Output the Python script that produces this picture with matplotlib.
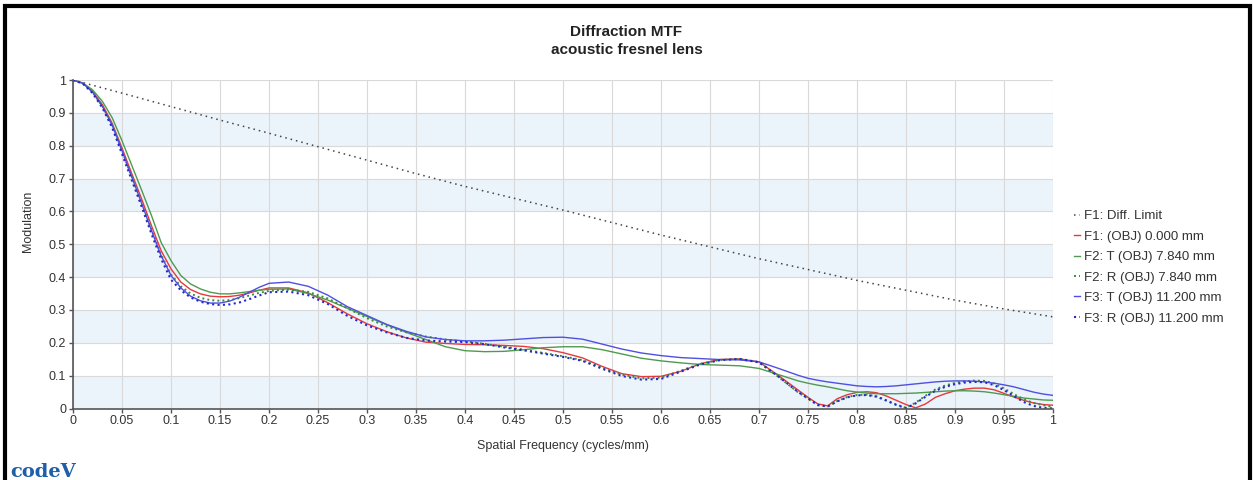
import numpy as np
import matplotlib
matplotlib.use("Agg")
import matplotlib.pyplot as plt
from matplotlib.patches import Rectangle
from matplotlib.ticker import MultipleLocator, FuncFormatter

plt.rcParams['font.family'] = ['Liberation Sans', 'DejaVu Sans']

# spatial frequency samples (cycles/mm)
freq = np.round(np.concatenate([np.arange(0, 0.205, 0.01),
                                np.arange(0.22, 0.745, 0.02),
                                np.arange(0.75, 1.005, 0.01)]), 3)

diff_freq = [0, 0.05, 0.1, 0.15, 0.2, 0.25, 0.3, 0.35, 0.4, 0.45, 0.5,
             0.55, 0.6, 0.65, 0.7, 0.75, 0.8, 0.85, 0.9, 0.95, 1.0]
diff_limit = [1.0, 0.96, 0.919, 0.878, 0.838, 0.797, 0.756, 0.715, 0.676, 0.64, 0.604,
              0.566, 0.528, 0.492, 0.456, 0.423, 0.39, 0.36, 0.33, 0.303, 0.279]

f1 = [1.0, 0.99, 0.965, 0.925, 0.868, 0.793, 0.715, 0.638, 0.557, 0.48, 0.425,
      0.385, 0.362, 0.349, 0.342, 0.34, 0.341, 0.345, 0.352, 0.36, 0.367,
      0.367, 0.352, 0.322, 0.288, 0.258, 0.234, 0.215, 0.202, 0.198, 0.195,
      0.194, 0.192, 0.189, 0.182, 0.17, 0.154, 0.128, 0.106, 0.097, 0.098,
      0.113, 0.136, 0.149, 0.151, 0.142, 0.10, 0.056,
      0.034, 0.014, 0.008, 0.03, 0.042, 0.049, 0.051, 0.048, 0.038, 0.025,
      0.012, 0.002, 0.014, 0.034, 0.045, 0.054, 0.059, 0.062, 0.062, 0.057,
      0.046, 0.035, 0.025, 0.017, 0.012, 0.01]

f2_t = [1.0, 0.991, 0.97, 0.935, 0.885, 0.815, 0.74, 0.665, 0.588, 0.505, 0.45,
        0.405, 0.379, 0.364, 0.354, 0.349, 0.349, 0.352, 0.356, 0.36, 0.363,
        0.364, 0.35, 0.33, 0.305, 0.28, 0.255, 0.232, 0.21, 0.188, 0.176,
        0.173, 0.174, 0.179, 0.185, 0.188, 0.188, 0.179, 0.166, 0.153, 0.145,
        0.139, 0.134, 0.132, 0.13, 0.122, 0.103, 0.084,
        0.077, 0.071, 0.066, 0.06, 0.054, 0.05, 0.047, 0.045, 0.045, 0.045,
        0.046, 0.047, 0.049, 0.051, 0.053, 0.054, 0.054, 0.053, 0.051, 0.047,
        0.042, 0.037, 0.032, 0.029, 0.026, 0.025]

f2_r = [1.0, 0.99, 0.963, 0.92, 0.862, 0.785, 0.705, 0.627, 0.545, 0.467, 0.408,
        0.372, 0.35, 0.337, 0.33, 0.328, 0.33, 0.336, 0.344, 0.352, 0.358,
        0.362, 0.355, 0.335, 0.305, 0.275, 0.25, 0.232, 0.219, 0.21, 0.204,
        0.197, 0.188, 0.179, 0.169, 0.159, 0.147, 0.124, 0.103, 0.092, 0.094,
        0.115, 0.136, 0.148, 0.151, 0.14, 0.096, 0.049,
        0.03, 0.01, 0.006, 0.023, 0.035, 0.041, 0.042, 0.037, 0.025, 0.012,
        0.002, 0.018, 0.039, 0.058, 0.07, 0.078, 0.083, 0.085, 0.084, 0.076,
        0.061, 0.044, 0.028, 0.017, 0.01, 0.005]

f3_t = [1.0, 0.99, 0.963, 0.92, 0.862, 0.785, 0.705, 0.625, 0.543, 0.465, 0.405,
        0.367, 0.342, 0.328, 0.321, 0.321, 0.327, 0.339, 0.354, 0.369, 0.381,
        0.385, 0.372, 0.345, 0.31, 0.283, 0.256, 0.235, 0.218, 0.21, 0.206,
        0.206, 0.208, 0.212, 0.216, 0.217, 0.211, 0.196, 0.181, 0.169, 0.161,
        0.155, 0.152, 0.149, 0.148, 0.142, 0.122, 0.101,
        0.092, 0.086, 0.081, 0.077, 0.073, 0.069, 0.067, 0.066, 0.067, 0.069,
        0.072, 0.075, 0.078, 0.081, 0.083, 0.084, 0.084, 0.083, 0.081, 0.077,
        0.072, 0.066, 0.058, 0.05, 0.044, 0.04]

f3_r = [1.0, 0.989, 0.96, 0.915, 0.855, 0.775, 0.695, 0.615, 0.532, 0.455, 0.392,
        0.36, 0.338, 0.325, 0.318, 0.315, 0.317, 0.323, 0.333, 0.344, 0.354,
        0.356, 0.345, 0.318, 0.282, 0.253, 0.232, 0.215, 0.207, 0.204, 0.202,
        0.196, 0.186, 0.177, 0.167, 0.157, 0.145, 0.121, 0.099, 0.088, 0.09,
        0.112, 0.134, 0.147, 0.151, 0.141, 0.097, 0.05,
        0.031, 0.011, 0.006, 0.022, 0.034, 0.04, 0.041, 0.036, 0.024, 0.011,
        0.001, 0.016, 0.036, 0.054, 0.066, 0.074, 0.079, 0.081, 0.08, 0.071,
        0.056, 0.038, 0.02, 0.008, 0.002, 0.0]

labels = ['F1: Diff. Limit', 'F1: (OBJ) 0.000 mm', 'F2: T (OBJ) 7.840 mm',
          'F2: R (OBJ) 7.840 mm', 'F3: T (OBJ) 11.200 mm', 'F3: R (OBJ) 11.200 mm']

fig = plt.figure(figsize=(12.53, 4.8), dpi=100)
ax = fig.add_axes([73 / 1253, 71.5 / 480, 980 / 1253, 328.5 / 480])

# alternating light blue bands
for lo in [0, 0.2, 0.4, 0.6, 0.8]:
    ax.axhspan(lo, lo + 0.1, color='#ebf3fb', lw=0, zorder=0)

ax.set_axisbelow(True)
ax.grid(color='#d9d9d9', lw=0.8)

ax.plot(diff_freq, diff_limit, color='#444444', lw=1.1, ls=(0, (1, 2.6)), label=labels[0])
ax.plot(freq, f1, color='#e8383d', lw=1.0, label=labels[1])
ax.plot(freq, f2_t, color='#4f9a4f', lw=1.0, label=labels[2])
ax.plot(freq, f2_r, color='#3c8a3c', lw=1.4, ls=(0, (1, 1.6)), label=labels[3])
ax.plot(freq, f3_t, color='#5050e0', lw=1.0, label=labels[4])
ax.plot(freq, f3_r, color='#2828c8', lw=1.5, ls=(0, (1, 1.6)), label=labels[5])

ax.set_xlim(0, 1)
ax.set_ylim(0, 1)
ax.xaxis.set_major_locator(MultipleLocator(0.05))
ax.yaxis.set_major_locator(MultipleLocator(0.1))
fmt = FuncFormatter(lambda v, p: f'{v:.2f}'.rstrip('0').rstrip('.'))
ax.xaxis.set_major_formatter(fmt)
ax.yaxis.set_major_formatter(fmt)
ax.tick_params(length=3, width=1, color='#555555', labelsize=9, labelcolor='#333333', pad=2)

ax.spines['top'].set_visible(False)
ax.spines['right'].set_visible(False)
for s in ['left', 'bottom']:
    ax.spines[s].set_color('#555555')
    ax.spines[s].set_linewidth(1.2)

ax.set_xlabel('Spatial Frequency (cycles/mm)', fontsize=9, color='#333333')
ax.xaxis.set_label_coords(0.5, -0.095)
ax.set_ylabel('Modulation', fontsize=9, color='#333333')
ax.yaxis.set_label_coords(-0.040, 0.57)

fig.text(0.5, 0.933, 'Diffraction MTF', ha='center', va='center',
         fontsize=11, fontweight='bold', color='#222222')
fig.text(0.5, 0.896, 'acoustic fresnel lens', ha='center', va='center',
         fontsize=11, fontweight='bold', color='#222222')

fig.legend(loc='center left', bbox_to_anchor=(0.852, 0.443), frameon=False,
           fontsize=9.5, handlelength=0.45, handletextpad=0.3, labelspacing=0.62,
           borderpad=0, labelcolor='#333333')

# black frame around the picture
fig.patches.append(Rectangle((5 / 1253, -0.05), 1245 / 1253, 1.05 - 6 / 480,
                             transform=fig.transFigure, fill=False,
                             edgecolor='black', lw=3))

fig.text(10 / 1253, 3 / 480, 'codeV', ha='left', va='baseline', fontsize=14,
         fontweight='bold', color='#1f5fa8', family='DejaVu Serif')

fig.savefig('out.png', dpi=100)
